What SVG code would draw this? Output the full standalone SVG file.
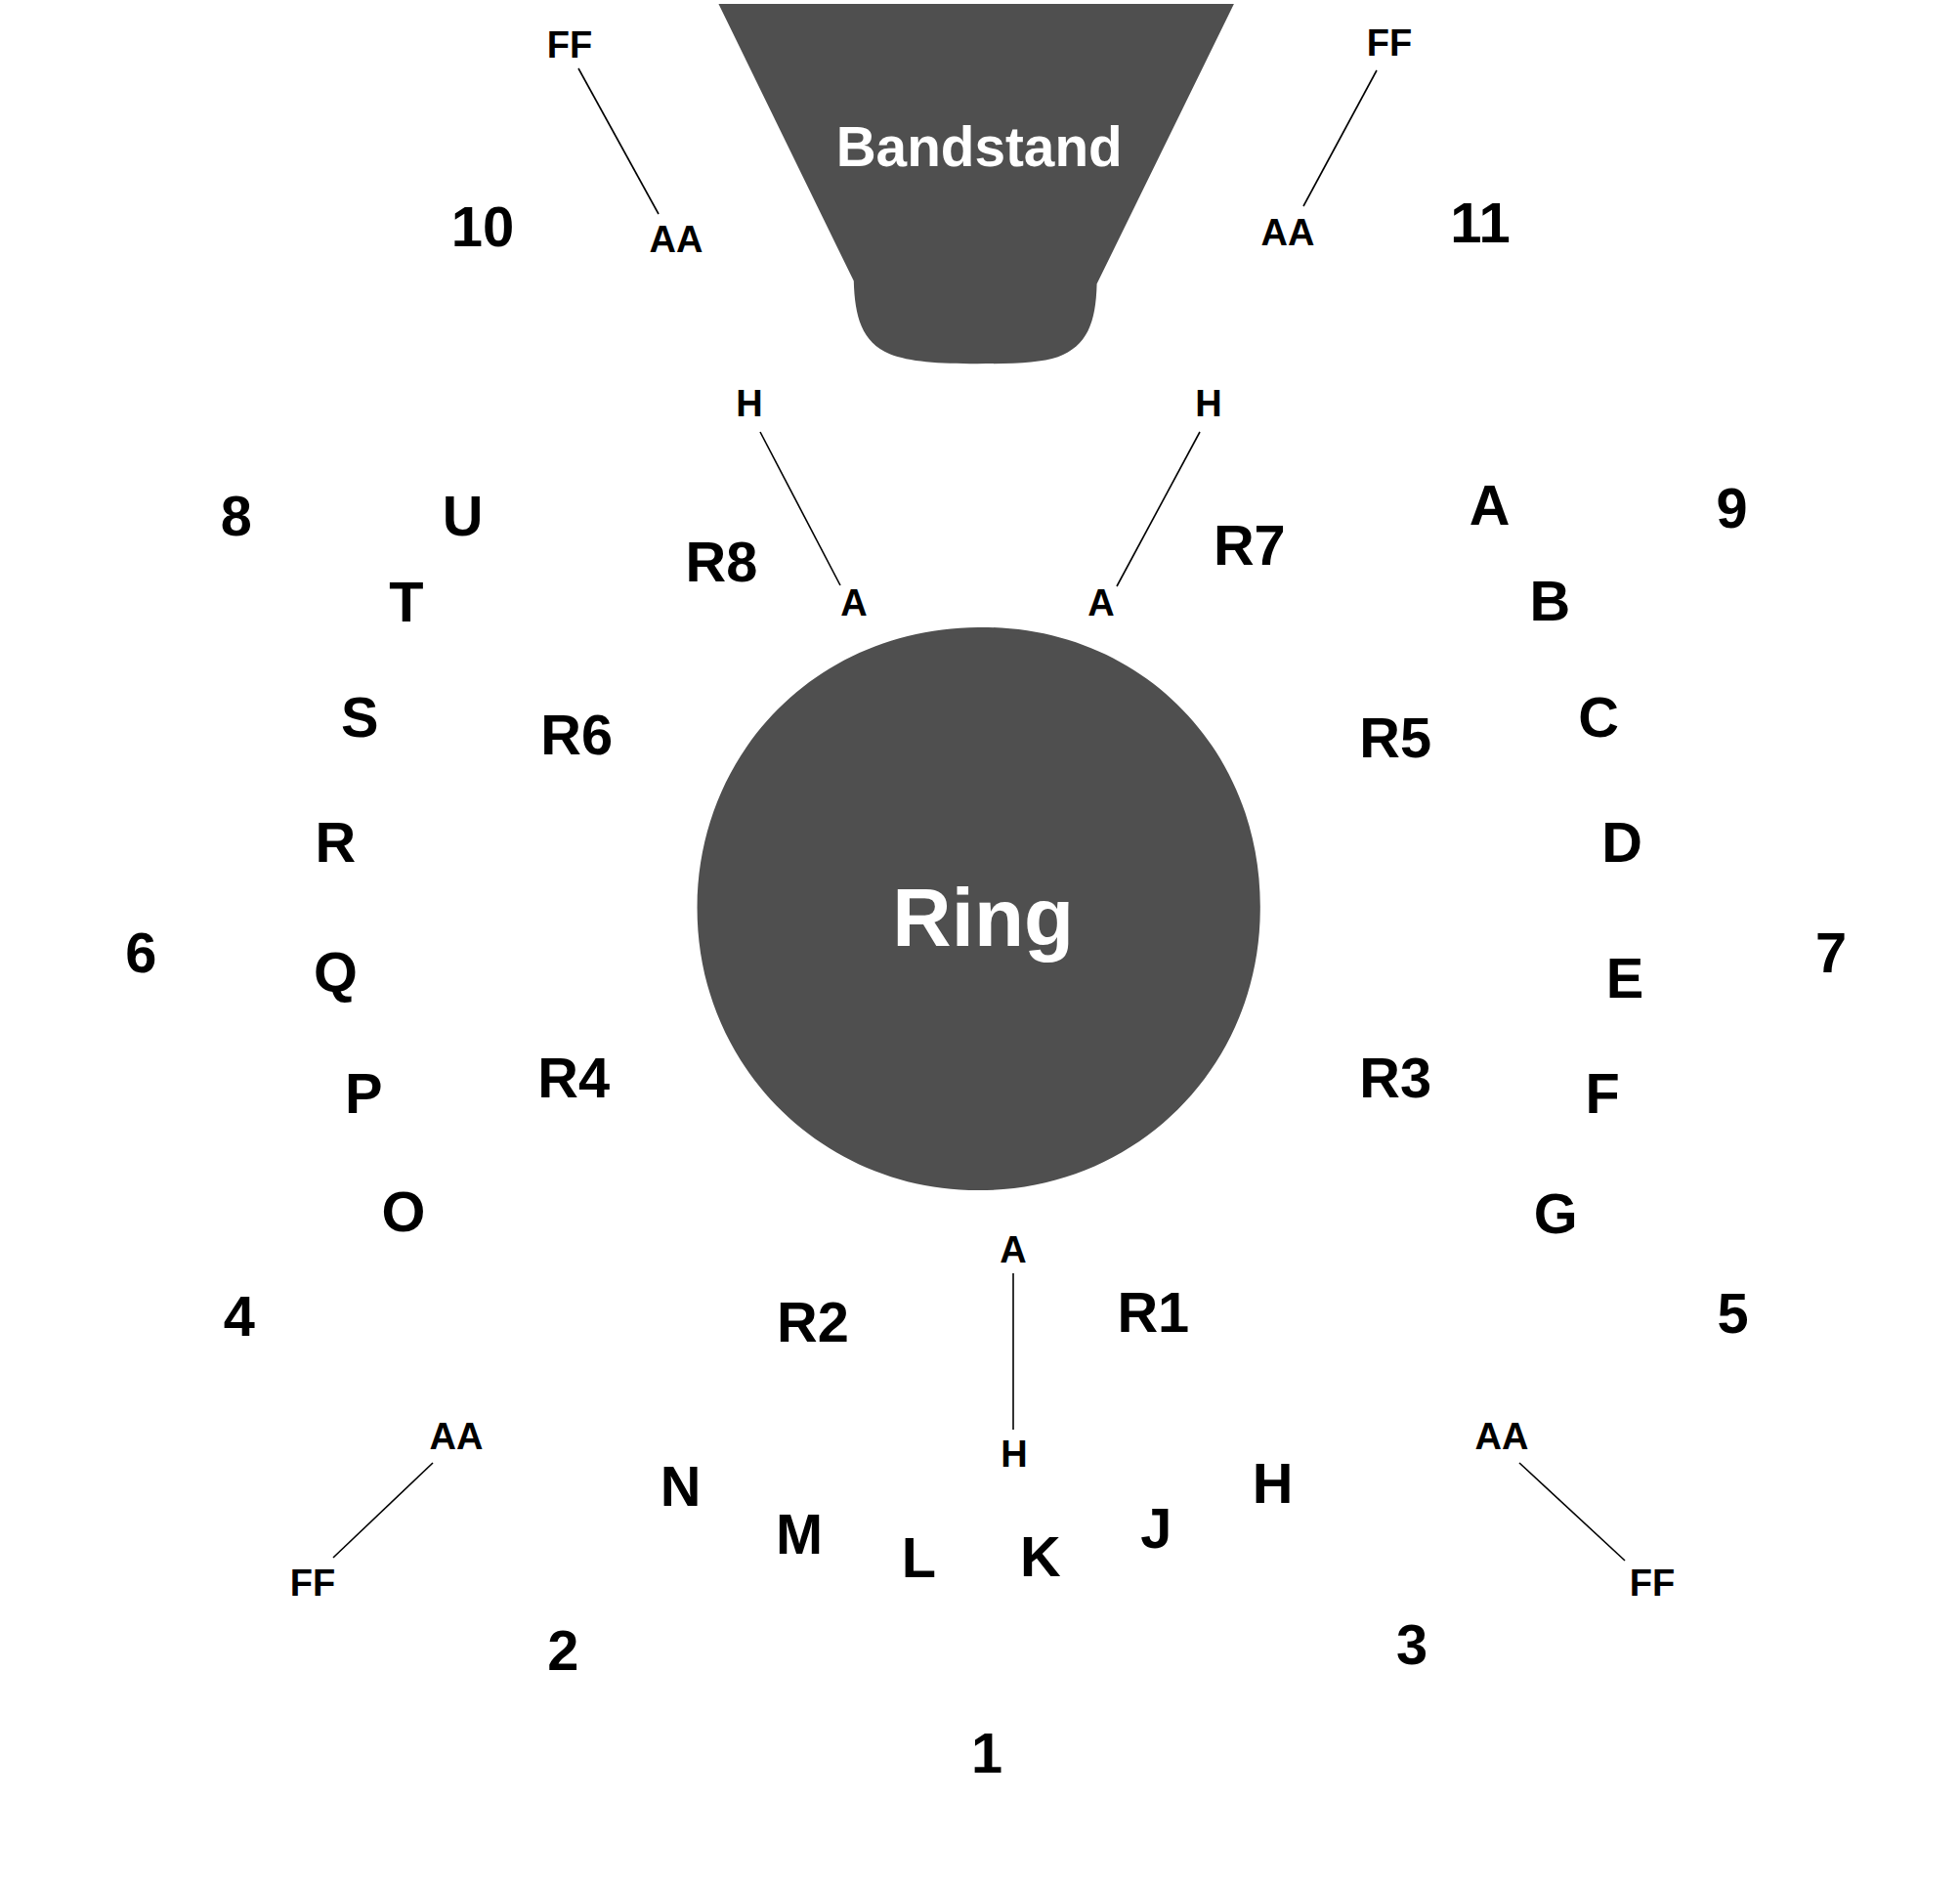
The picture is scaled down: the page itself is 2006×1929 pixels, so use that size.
<svg xmlns="http://www.w3.org/2000/svg" width="2006" height="1929" viewBox="0 0 2006 1929">
<style>
text{font-family:"Liberation Sans",Arial,sans-serif;font-weight:bold;text-anchor:middle;fill:#000}
.big{font-size:58px}
.sm{font-size:38px}
.shape{fill:#4f4f4f}
.title{fill:#fff}
.conn line{stroke:#000;stroke-width:1.6}
</style>
<rect width="2006" height="1929" fill="#fff"/>
<g id="bandstand" transform="scale(0.9952)">
<path class="shape" d="M739,4 L1269,4 L1128,292 C1127,332 1118,356 1088,367 C1070,373 1045,374 1005,374 C965,374 935,372 915,364 C886,352 879,325 878,289 Z"/>
<text class="title" x="1007" y="171" style="font-size:57px">Bandstand</text>
</g>
<g id="ring" transform="scale(0.9952)">
<path class="shape" d="M1006,645 C1174,643 1298,772 1296,936 C1295,1098 1168,1224 1006,1224 C846,1224 716,1096 717,932 C718,772 842,646 1006,645 Z"/>
<text class="title" x="1011" y="973" style="font-size:84px">Ring</text>
</g>
<g id="connectors" class="conn">
<line x1="592" y1="70" x2="674" y2="219"/>
<line x1="1409" y1="72" x2="1334" y2="211"/>
<line x1="778" y1="442" x2="860" y2="599"/>
<line x1="1228" y1="442" x2="1143" y2="600"/>
<line x1="1037" y1="1303" x2="1037" y2="1463"/>
<line x1="443" y1="1497" x2="341" y2="1594"/>
<line x1="1555" y1="1497" x2="1663" y2="1597"/>
</g>
<g id="small-labels">
<text class="sm" x="583" y="59">FF</text>
<text class="sm" x="692" y="258">AA</text>
<text class="sm" x="1422" y="57">FF</text>
<text class="sm" x="1318" y="251">AA</text>
<text class="sm" x="767" y="426">H</text>
<text class="sm" x="874" y="630">A</text>
<text class="sm" x="1237" y="426">H</text>
<text class="sm" x="1127" y="630">A</text>
<text class="sm" x="1037" y="1292">A</text>
<text class="sm" x="1038" y="1501">H</text>
<text class="sm" x="467" y="1483">AA</text>
<text class="sm" x="320" y="1633">FF</text>
<text class="sm" x="1537" y="1483">AA</text>
<text class="sm" x="1691" y="1633">FF</text>
</g>
<g id="labels">
<g id="n10"><text class="big" x="494" y="252">10</text></g>
<g id="n11"><text class="big" x="1515" y="248">11</text></g>
<g transform="scale(0.9952)">
<g id="n8"><text class="big" x="243" y="551">8</text></g>
<g id="nU"><text class="big" x="476" y="551">U</text></g>
<g id="nR8"><text class="big" x="742" y="598">R8</text></g>
<g id="nR7"><text class="big" x="1285" y="581">R7</text></g>
<g id="nA"><text class="big" x="1532" y="540">A</text></g>
<g id="n9"><text class="big" x="1781" y="543">9</text></g>
<g id="nT"><text class="big" x="418" y="639">T</text></g>
<g id="nB"><text class="big" x="1594" y="638">B</text></g>
<g id="nS"><text class="big" x="370" y="758">S</text></g>
<g id="nR6"><text class="big" x="593" y="776">R6</text></g>
<g id="nR5"><text class="big" x="1435" y="779">R5</text></g>
<g id="nC"><text class="big" x="1644" y="758">C</text></g>
<g id="nR"><text class="big" x="345" y="886">R</text></g>
<g id="nD"><text class="big" x="1668" y="886">D</text></g>
<g id="n6"><text class="big" x="145" y="1000">6</text></g>
<g id="nQ"><text class="big" x="345" y="1020">Q</text></g>
<g id="nE"><text class="big" x="1671" y="1026">E</text></g>
<g id="n7"><text class="big" x="1883" y="1000">7</text></g>
<g id="nR4"><text class="big" x="590" y="1128">R4</text></g>
<g id="nR3"><text class="big" x="1435" y="1128">R3</text></g>
<g id="nP"><text class="big" x="374" y="1144">P</text></g>
<g id="nF"><text class="big" x="1648" y="1144">F</text></g>
<g id="nO"><text class="big" x="415" y="1266">O</text></g>
<g id="nG"><text class="big" x="1600" y="1268">G</text></g>
<g id="n4"><text class="big" x="246" y="1374">4</text></g>
<g id="n5"><text class="big" x="1782" y="1371">5</text></g>
<g id="nR2"><text class="big" x="836" y="1380">R2</text></g>
<g id="nR1"><text class="big" x="1186" y="1370">R1</text></g>
<g id="nN"><text class="big" x="700" y="1548">N</text></g>
<g id="nH"><text class="big" x="1309" y="1545">H</text></g>
<g id="nM"><text class="big" x="822" y="1598">M</text></g>
<g id="nJ"><text class="big" x="1189" y="1592">J</text></g>
<g id="nL"><text class="big" x="945" y="1622">L</text></g>
<g id="nK"><text class="big" x="1070" y="1621">K</text></g>
<g id="n2"><text class="big" x="579" y="1717">2</text></g>
<g id="n3"><text class="big" x="1452" y="1711">3</text></g>
<g id="n1"><text class="big" x="1015" y="1823">1</text></g>
</g>
</g>
</svg>
